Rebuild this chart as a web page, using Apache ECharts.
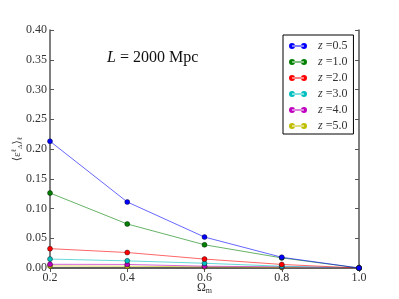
<!DOCTYPE html>
<html><head><meta charset="utf-8">
<script src="https://cdn.jsdelivr.net/npm/echarts@6/dist/echarts.min.js"></script>
<style>html,body{margin:0;padding:0;background:#fff}#c{width:399px;height:299px}</style>
</head><body><div id="c"></div>
<script>
const omegaM = [0.2, 0.4, 0.6, 0.8, 1.0];
const zLabels = ['0.5', '1.0', '2.0', '3.0', '4.0', '5.0'];
const z05 = [0.213, 0.111, 0.052, 0.018, 0.0];
const z10 = [0.126, 0.074, 0.039, 0.017, 0.0];
const z20 = [0.0325, 0.026, 0.015, 0.006, 0.0];
const z30 = [0.015, 0.012, 0.008, 0.003, 0.0];
const z40 = [0.0062, 0.006, 0.003, 0.002, 0.0];
const z50 = [0.0035, 0.003, 0.002, 0.001, 0.0];
const xTicks = [0.2, 0.4, 0.6, 0.8, 1.0];
const yTicks = [0.0, 0.05, 0.10, 0.15, 0.20, 0.25, 0.30, 0.35, 0.40];

const seriesData = [z05, z10, z20, z30, z40, z50];
const colors = ['#0000ff', '#008000', '#ff0000', '#00bfbf', '#bf00bf', '#bfbf00'];
const serif = '"Liberation Serif", "DejaVu Serif", serif';
const axisCol = '#555';

const chart = echarts.init(document.getElementById('c'), null, {renderer: 'canvas'});
const legendIcon = 'path://M0,3a3,3 0 1,0 6,0a3,3 0 1,0 -6,0z M12,3a3,3 0 1,0 6,0a3,3 0 1,0 -6,0z M3,2.5L15,2.5L15,3.5L3,3.5z';

const series = seriesData.map((d, i) => ({
  name: 'z' + zLabels[i],
  type: 'line',
  xAxisIndex: 0, yAxisIndex: 0,
  data: omegaM.map((x, j) => [x, d[j]]),
  symbol: 'circle',
  symbolSize: 5,
  showSymbol: true,
  color: colors[i],
  lineStyle: {width: 1, color: colors[i], opacity: 0.6},
  itemStyle: {color: colors[i], borderColor: '#000', borderWidth: 0.4},
  emphasis: {disabled: true},
  animation: false,
  z: 10 - i
}));

const tickLabelStyle = {fontFamily: serif, fontSize: 12, color: '#333'};

chart.setOption({
  backgroundColor: '#fff',
  animation: false,
  title: {
    text: '{i|L} = 2000 Mpc',
    left: 107, top: 50, padding: 0,
    textStyle: {
      fontFamily: serif, fontSize: 16, fontWeight: 'normal', color: '#111',
      rich: {i: {fontFamily: serif, fontSize: 16, fontStyle: 'italic', color: '#111'}}
    }
  },
  legend: {
    orient: 'vertical',
    left: 283, top: 35,
    width: 70,
    padding: [5, 6, 2, 6],
    borderColor: '#000', borderWidth: 1,
    itemWidth: 18, itemHeight: 6,
    itemGap: 4,
    icon: legendIcon,
    itemStyle: {borderWidth: 0},
    lineStyle: {width: 0},
    data: zLabels.map((z, i) => ({name: 'z' + z, itemStyle: {color: colors[i], borderWidth: 0}})),
    formatter: name => '{i|z} =' + name.slice(1),
    textStyle: {
      fontFamily: serif, fontSize: 12, color: '#333', padding: [0, 0, 0, 6],
      rich: {i: {fontFamily: serif, fontStyle: 'italic', fontSize: 12, color: '#333'}}
    }
  },
  grid: {left: 50, top: 30, right: 40, bottom: 31, containLabel: false, outerBoundsMode: 'none'},
  xAxis: [{
    type: 'value', min: 0.2, max: 1.0, interval: 0.2,
    position: 'bottom',
    name: '{o|Ω}{s|m}', nameLocation: 'middle', nameGap: 13, nameMoveOverlap: false,
    nameTextStyle: {fontFamily: serif, fontSize: 12, color: '#333',
      rich: {o: {fontFamily: serif, fontSize: 12, color: '#333'}, s: {fontFamily: serif, fontSize: 8, color: '#333', verticalAlign: 'bottom', padding: [6, 0, 0, 0]}}},
    axisLine: {show: true, lineStyle: {color: axisCol, width: 1.5}},
    axisTick: {show: true, inside: true, length: 4, lineStyle: {color: axisCol}},
    axisLabel: Object.assign({formatter: v => v.toFixed(1), margin: 4}, tickLabelStyle),
    splitLine: {show: false}
  }, {
    type: 'value', min: 0.2, max: 1.0, interval: 0.2,
    position: 'top',
    axisLine: {show: true, lineStyle: {color: axisCol, width: 1.5}},
    axisTick: {show: true, inside: true, length: 4, lineStyle: {color: axisCol}},
    axisLabel: {show: false},
    splitLine: {show: false}
  }],
  yAxis: [{
    type: 'value', min: 0, max: 0.4, interval: 0.05,
    position: 'left',
    name: '⟨ε{sp|ℓ}{sb|Δ}⟩{sb|ℓ}', nameLocation: 'middle', nameGap: 26, nameRotate: 90, nameMoveOverlap: false,
    nameTextStyle: {fontFamily: serif, fontSize: 11, color: '#333',
      rich: {sp: {fontSize: 7, fontFamily: serif, color: '#333', verticalAlign: 'top', padding: [0, 0, 6, 0]},
             sb: {fontSize: 7, fontFamily: serif, color: '#333', verticalAlign: 'bottom', padding: [6, 0, 0, 0]}}},
    axisLine: {show: true, lineStyle: {color: axisCol, width: 1.5}},
    axisTick: {show: true, inside: true, length: 4, lineStyle: {color: axisCol}},
    axisLabel: Object.assign({formatter: v => v.toFixed(2), margin: 3}, tickLabelStyle),
    splitLine: {show: false}
  }, {
    type: 'value', min: 0, max: 0.4, interval: 0.05,
    position: 'right',
    axisLine: {show: true, lineStyle: {color: axisCol, width: 1.5}},
    axisTick: {show: true, inside: true, length: 4, lineStyle: {color: axisCol}},
    axisLabel: {show: false},
    splitLine: {show: false}
  }],
  series: series
});
</script>
</body></html>
